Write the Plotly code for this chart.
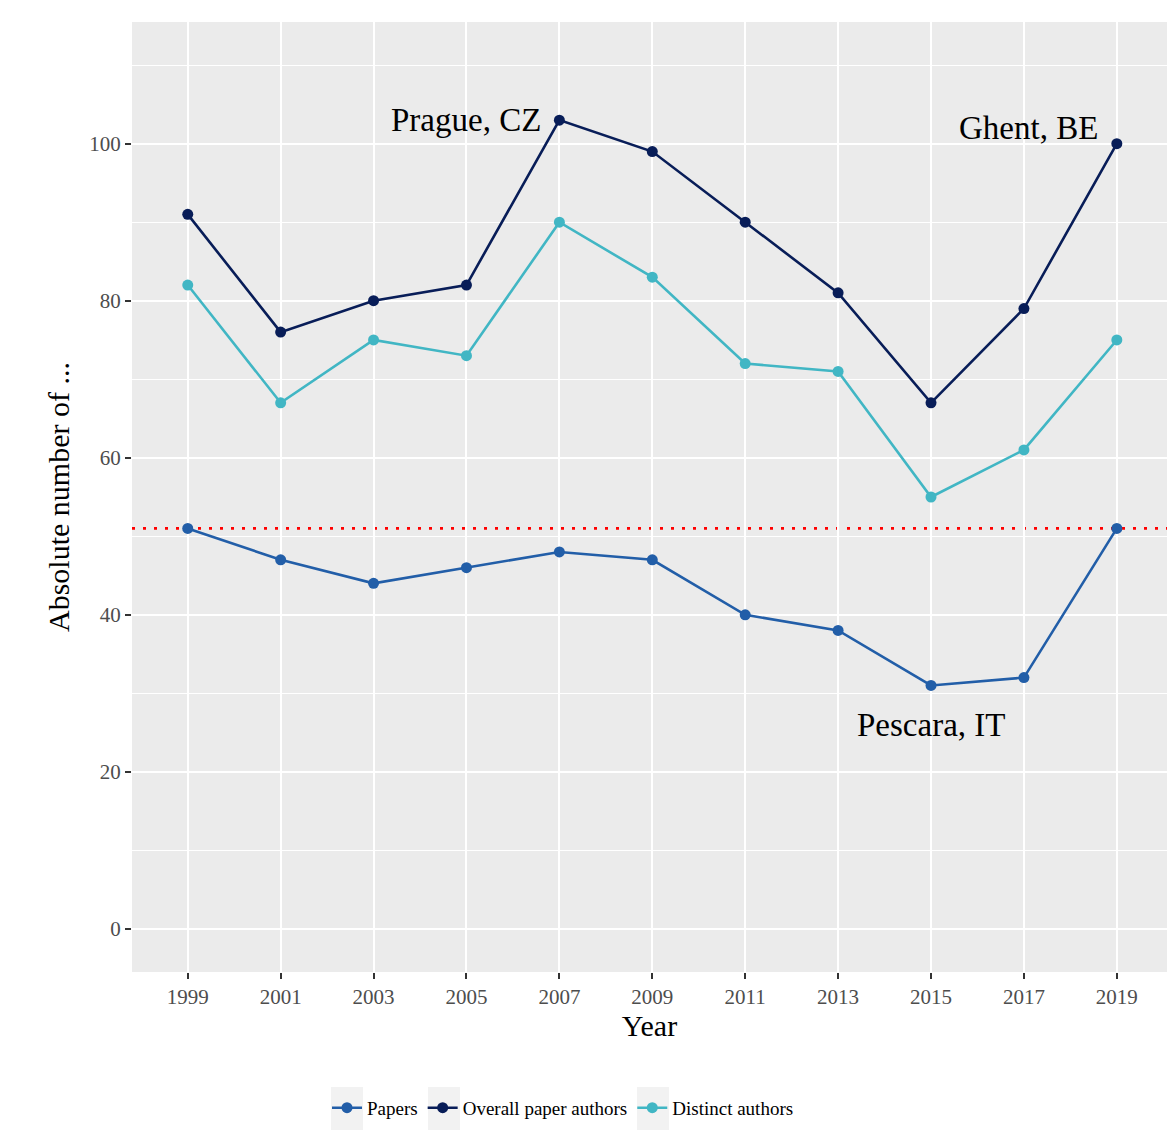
import plotly.graph_objects as go

years = [1999, 2001, 2003, 2005, 2007, 2009, 2011, 2013, 2015, 2017, 2019]
papers = [51, 47, 44, 46, 48, 47, 40, 38, 31, 32, 51]
overall_authors = [91, 76, 80, 82, 103, 99, 90, 81, 67, 79, 100]
distinct_authors = [82, 67, 75, 73, 90, 83, 72, 71, 55, 61, 75]
reference_value = 51

series_names = ["Papers", "Overall paper authors", "Distinct authors"]
series_colors = ["#225ea8", "#081d58", "#41b6c4"]

labels_text = ["Prague, CZ", "Ghent, BE", "Pescara, IT"]
labels_x = [2005, 2017.1, 2015]
labels_y = [103, 102, 26]

y_ticks = [0, 20, 40, 60, 80, 100]

FONT = "Liberation Serif"

fig = go.Figure()

for name, vals, col in zip(series_names, [papers, overall_authors, distinct_authors], series_colors):
    fig.add_trace(go.Scatter(
        x=years, y=vals, name=name, mode="lines+markers",
        line=dict(color=col, width=2.6),
        marker=dict(color=col, size=11),
    ))

fig.add_shape(type="line", xref="paper", x0=0, x1=1, yref="y",
              y0=reference_value, y1=reference_value,
              line=dict(color="red", width=2.6, dash="3px,8px"), layer="between")

for t, x, y in zip(labels_text, labels_x, labels_y):
    fig.add_annotation(x=x, y=y, text=t, showarrow=False,
                       font=dict(family=FONT, size=33, color="black"),
                       xanchor="center", yanchor="middle")

# legend geometry (pixels) and grey ggplot-style key backgrounds
plot_left, plot_w, plot_bottom, plot_h = 132, 1035, 972, 950
legend_left_px = 327
key_centers_px = [347, 444, 653]
for cx in key_centers_px:
    fig.add_shape(type="rect", xref="paper", yref="paper",
                  x0=(cx - 16 - plot_left) / plot_w, x1=(cx + 16 - plot_left) / plot_w,
                  y0=(plot_bottom - 1130) / plot_h, y1=(plot_bottom - 1087) / plot_h,
                  fillcolor="#f2f2f2", line=dict(width=0), layer="below")

fig.update_layout(
    width=1167, height=1142,
    margin=dict(l=132, r=0, t=22, b=170),
    paper_bgcolor="white",
    plot_bgcolor="#ebebeb",
    font=dict(family=FONT, color="black"),
    showlegend=True,
    legend=dict(
        orientation="h", x=(legend_left_px - plot_left) / plot_w, xanchor="left",
        y=-0.143, yanchor="middle",
        font=dict(family=FONT, size=19, color="black"),
        bgcolor="rgba(0,0,0,0)", itemwidth=30,
    ),
    xaxis=dict(
        range=[1997.8, 2020.08],
        tickvals=years, ticktext=[str(y) for y in years],
        showgrid=True, gridcolor="white", gridwidth=2,
        zeroline=False, showline=False,
        ticks="outside", ticklen=6, tickwidth=1.5, tickcolor="#333333",
        tickfont=dict(family=FONT, size=21, color="#4d4d4d"),
        title=dict(text="Year", font=dict(family=FONT, size=30, color="black"), standoff=4),
    ),
    yaxis=dict(
        range=[-5.5, 115.5],
        tickvals=y_ticks,
        showgrid=True, gridcolor="white", gridwidth=2,
        minor=dict(dtick=10, tick0=10, showgrid=True, gridcolor="white", gridwidth=1, ticks=""),
        zeroline=False, showline=False,
        ticks="outside", ticklen=6, tickwidth=1.5, tickcolor="#333333",
        tickfont=dict(family=FONT, size=21, color="#4d4d4d"),
        title=dict(text="Absolute number of ...", font=dict(family=FONT, size=30, color="black"), standoff=10),
    ),
)

fig.write_html("out.html", config={"displayModeBar": False},
               post_script="document.body.style.margin='0';document.body.style.overflow='hidden';")
